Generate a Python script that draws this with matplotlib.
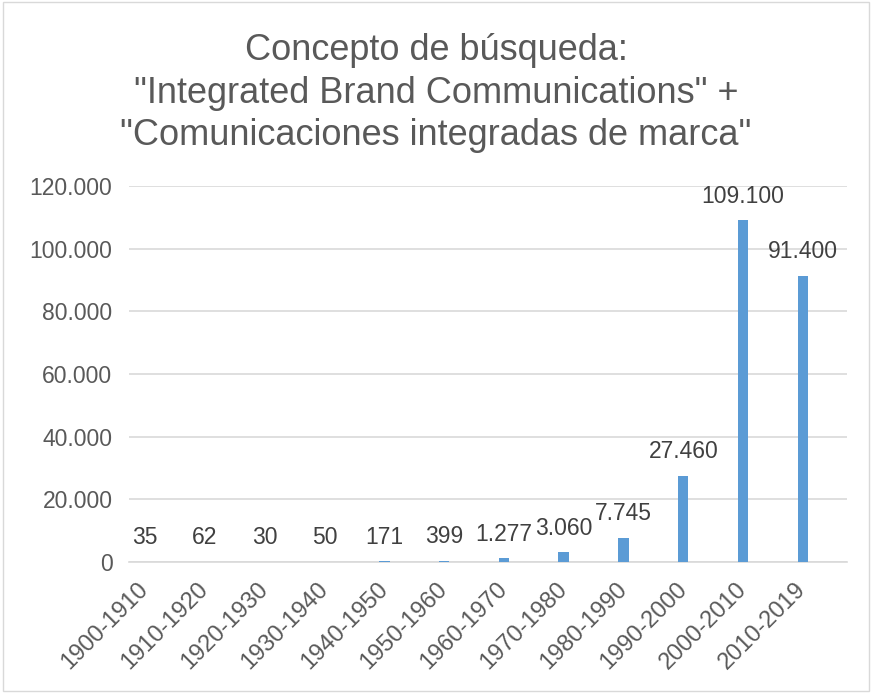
import matplotlib.pyplot as plt
from matplotlib.patches import Rectangle
from matplotlib.transforms import ScaledTranslation

# data
periods = ["1900-1910", "1910-1920", "1920-1930", "1930-1940", "1940-1950", "1950-1960",
           "1960-1970", "1970-1980", "1980-1990", "1990-2000", "2000-2010", "2010-2019"]
counts = [35, 62, 30, 50, 171, 399, 1277, 3060, 7745, 27460, 109100, 91400]
yticks = [0, 20000, 40000, 60000, 80000, 100000, 120000]

def fmt(v):
    return f"{v:,}".replace(",", ".")

plt.rcParams['font.family'] = ['Liberation Sans', 'DejaVu Sans']
txt = "#595959"

fig = plt.figure(figsize=(8.72, 6.93), dpi=100)
ax = fig.add_axes([0.148, 0.189, 0.8234, 0.5426])

x = list(range(len(periods)))
ax.bar(x, counts, width=0.175, color="#5B9BD5", zorder=3)

# data labels
for xi, v in zip(x, counts):
    ax.annotate(fmt(v), (xi, v), xytext=(0, 9), textcoords="offset points",
                ha="center", va="bottom", fontsize=16.5, color="#404040")

ax.set_xlim(-0.27, 11.74)
ax.set_ylim(0, 120000)
ax.set_yticks(yticks)
ax.set_yticklabels([fmt(t) for t in yticks], fontsize=16.5, color=txt)
ax.set_xticks(x)
ax.set_xticklabels(periods, rotation=45, ha="right", va="center", rotation_mode="anchor",
                   fontsize=17, color=txt)
# shift the rotated labels a little right, like Excel places them
shift = ScaledTranslation(11 / 72, 0, fig.dpi_scale_trans)
for lab in ax.get_xticklabels():
    lab.set_transform(lab.get_transform() + shift)
ax.tick_params(axis="both", length=0)
ax.tick_params(axis="y", pad=12)
ax.tick_params(axis="x", pad=17)
ax.grid(axis="y", color="#D9D9D9", linewidth=1.2, zorder=0)
for s in ["top", "right", "left"]:
    ax.spines[s].set_visible(False)
ax.spines["bottom"].set_color("#D9D9D9")
ax.spines["bottom"].set_linewidth(1.2)

fig.text(0.5, 0.952, 'Concepto de búsqueda:\n"Integrated Brand Communications" +\n"Comunicaciones integradas de marca"',
         ha="center", va="top", fontsize=26, color=txt, linespacing=1.27)

# chart border
fig.patches.append(Rectangle((0.003, 0.003), 0.994, 0.994, transform=fig.transFigure,
                             fill=False, edgecolor="#D9D9D9", linewidth=1))

fig.savefig("out.png", dpi=100)
